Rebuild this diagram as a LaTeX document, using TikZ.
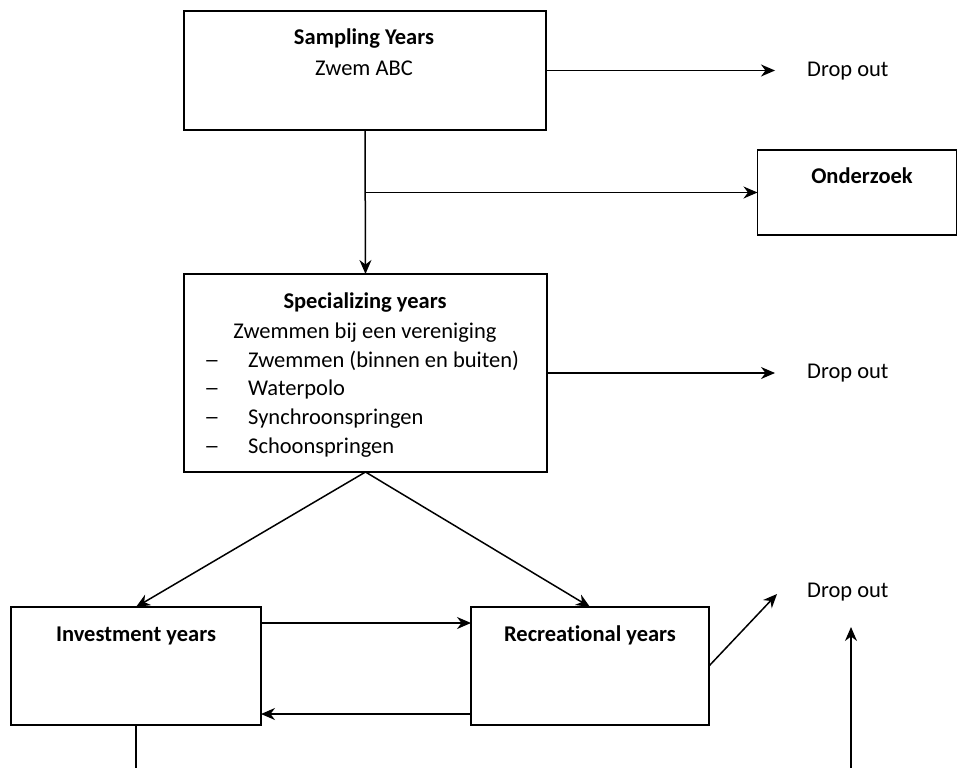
\documentclass[tikz,border=0pt]{standalone}
\usepackage{fontspec}
\setmainfont{Carlito}[Ligatures=NoCommon]
\usetikzlibrary{arrows.meta}
\begin{document}
\begin{tikzpicture}[x=1pt,y=-1pt,
  box/.style={draw, line width=1.5pt, inner sep=0pt, outer sep=0pt},
  txt/.style={inner sep=0pt, anchor=base, font=\fontsize{22.5}{27}\selectfont},
  bt/.style={inner sep=0pt, anchor=base, font=\fontsize{22.5}{27}\selectfont\bfseries},
  itm/.style={inner sep=0pt, anchor=base west, font=\fontsize{22.5}{27}\selectfont},
  conn/.style={line width=1.5pt},
  arr/.style={conn, -{Stealth[length=14pt,width=12pt,inset=4.5pt]}}]
\useasboundingbox (0,0) rectangle (958,768);
% boxes
\node[box, minimum width=362pt, minimum height=119pt] (samp) at (365,70.5) {};
\node[box, minimum width=363pt, minimum height=198pt] (spec) at (365.5,373) {};
\node[box, minimum width=199pt, minimum height=85pt] (ond) at (857,192.5) {};
\node[box, minimum width=250pt, minimum height=118pt] (inv) at (136,666) {};
\node[box, minimum width=238pt, minimum height=118pt] (rec) at (590,666) {};
% texts
\node[bt] (t1) at (364,45) {Sampling Years};
\node[txt] (t2) at (364,75) {Zwem ABC};
\node[bt] (t3) at (365,308) {Specializing years};
\node[txt] (t4) at (365,338) {Zwemmen bij een vereniging};
\node[txt] (d1) at (212,367) {\scalebox{1.4}[1]{–}};
\node[txt] (d2) at (212,395) {\scalebox{1.4}[1]{–}};
\node[txt] (d3) at (212,424) {\scalebox{1.4}[1]{–}};
\node[txt] (d4) at (212,453) {\scalebox{1.4}[1]{–}};
\node[itm] (i1) at (248,367) {Zwemmen (binnen en buiten)};
\node[itm] (i2) at (248,395) {Waterpolo};
\node[itm] (i3) at (248,424) {Synchroonspringen};
\node[itm] (i4) at (248,453) {Schoonspringen};
\node[bt] (t5) at (862,183) {Onderzoek};
\node[bt] (t6) at (136,641) {Investment years};
\node[bt] (t7) at (590,641) {Recreational years};
\node[itm] (do1) at (807,77) {Drop out};
\node[itm] (do2) at (807,378) {Drop out};
\node[itm] (do3) at (807,597) {Drop out};
% coordinates
\coordinate (c1) at (775,70.5);
\coordinate (c2) at (775,373);
\coordinate (c3) at (777,594);
\coordinate (u0) at (851,768);
\coordinate (u1) at (851,627);
\coordinate (b0) at (136,768);
\coordinate (br) at (samp.south |- ond.west);
% connectors
\draw[arr] (samp.east) -- (c1);
\draw[arr] (samp.south) -- (spec.north);
\draw[arr] (br) -- (ond.west);
\draw[arr] (spec.east) -- (c2);
\draw[arr] (spec.south) -- (inv.north);
\draw[arr] (spec.south) -- (rec.north);
\draw[arr] ([yshift=43pt]inv.east) -- ([yshift=43pt]rec.west);
\draw[arr] ([yshift=-48pt]rec.west) -- ([yshift=-48pt]inv.east);
\draw[arr] (rec.east) -- (c3);
\draw[arr] (u0) -- (u1);
\draw[conn] (inv.south) -- (b0);
\end{tikzpicture}
\end{document}
